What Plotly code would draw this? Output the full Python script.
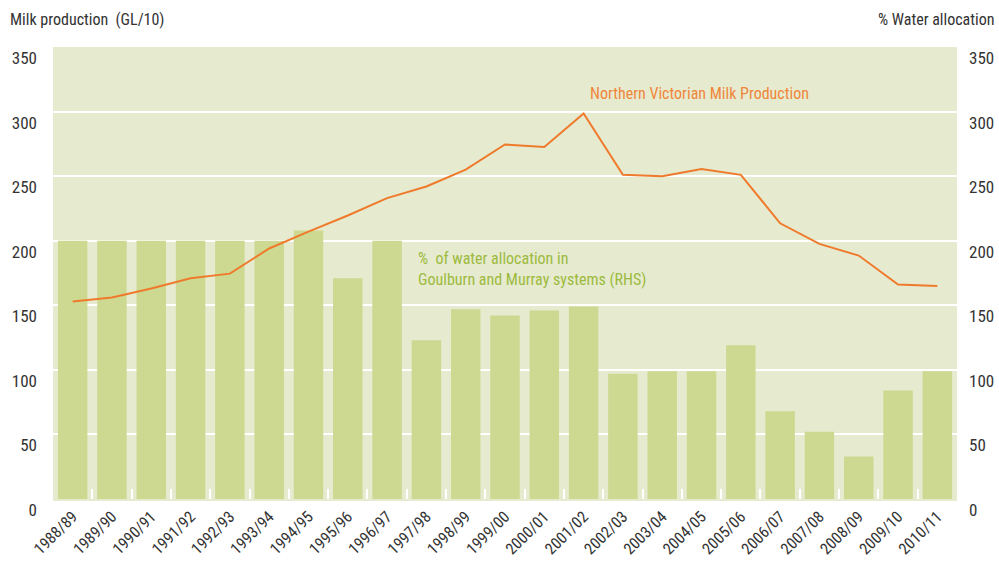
import plotly.graph_objects as go

years = ["1988/89", "1989/90", "1990/91", "1991/92", "1992/93", "1993/94", "1994/95",
         "1995/96", "1996/97", "1997/98", "1998/99", "1999/00", "2000/01", "2001/02",
         "2002/03", "2003/04", "2004/05", "2005/06", "2006/07", "2007/08", "2008/09",
         "2009/10", "2010/11"]

water_allocation = [200, 200, 200, 200, 200, 200, 208, 171, 200, 123, 147, 142, 146, 149,
                    97, 99, 99, 119, 68, 52, 33, 84, 99]

milk_production = [153, 156, 163, 171, 174.5, 194, 207, 219.5, 233, 242, 255, 274.5, 272.5,
                   298.5, 251, 250, 255.5, 251, 213.5, 197.5, 188.5, 166, 165]

tick_vals = [0, 50, 100, 150, 200, 250, 300, 350]

FONT = "Liberation Sans Narrow, Arial Narrow, Roboto Condensed, sans-serif"
BG = "#e6ebcf"
BAR = "#cdd890"
LINE = "#ef7a2c"
TXT = "#333333"

fig = go.Figure()
# bars belong to the RHS scale; both axes share the same 0-350 range
fig.add_trace(go.Bar(x=years, y=water_allocation, marker=dict(color=BAR, line=dict(width=0)),
                     yaxis="y", name="% of water allocation"))
fig.add_trace(go.Scatter(x=years, y=milk_production, mode="lines",
                         line=dict(color=LINE, width=2), yaxis="y2",
                         name="Northern Victorian Milk Production"))

fig.update_layout(
    width=999, height=561,
    margin=dict(l=53, r=42, t=47, b=62),
    paper_bgcolor="white", plot_bgcolor=BG,
    showlegend=False, bargap=0.25,
    font=dict(family=FONT, color=TXT),
    xaxis=dict(type="category", tickangle=-45, tickfont=dict(size=16, color=TXT),
               tickson="boundaries", ticks="inside", ticklen=10, tickwidth=2,
               tickcolor="white", showgrid=False, showline=True, linecolor="#e6ebcf",
               linewidth=2, automargin=False, layer="above traces"),
    yaxis=dict(range=[0, 350], tickvals=tick_vals, showgrid=True, gridcolor="white",
               gridwidth=2, zeroline=False, tickfont=dict(size=17, color=TXT),
               ticklabelshift=11, ticks="", ticklabelstandoff=15, automargin=False),
    yaxis2=dict(range=[0, 350], tickvals=tick_vals, overlaying="y", side="right",
                showgrid=False, zeroline=False, tickfont=dict(size=17, color=TXT),
                ticklabelshift=11, ticks="", ticklabelstandoff=11, automargin=False),
    annotations=[
        dict(text="Milk production  (GL/10)", xref="paper", yref="paper", x=-0.05, y=1.06,
             xanchor="left", yanchor="middle", showarrow=False,
             font=dict(size=16, color=TXT, family=FONT)),
        dict(text="% Water allocation", xref="paper", yref="paper", x=1.043, y=1.06,
             xanchor="right", yanchor="middle", showarrow=False,
             font=dict(size=16, color=TXT, family=FONT)),
        dict(text="Northern Victorian Milk Production", xref="paper", yref="paper",
             x=0.5918, y=0.898, xanchor="left", yanchor="middle", showarrow=False,
             font=dict(size=16, color="#f0863a", family=FONT)),
        dict(text="%  of water allocation in<br>Goulburn and Murray systems (RHS)",
             xref="paper", yref="paper", x=0.4015, y=0.509, xanchor="left",
             yanchor="middle", align="left", showarrow=False,
             font=dict(size=16, color="#9dba3e", family=FONT)),
    ],
)

fig.write_html(
    "out.html",
    config={"displayModeBar": False},
    post_script="document.body.style.margin='0';document.body.style.overflow='hidden';",
)
